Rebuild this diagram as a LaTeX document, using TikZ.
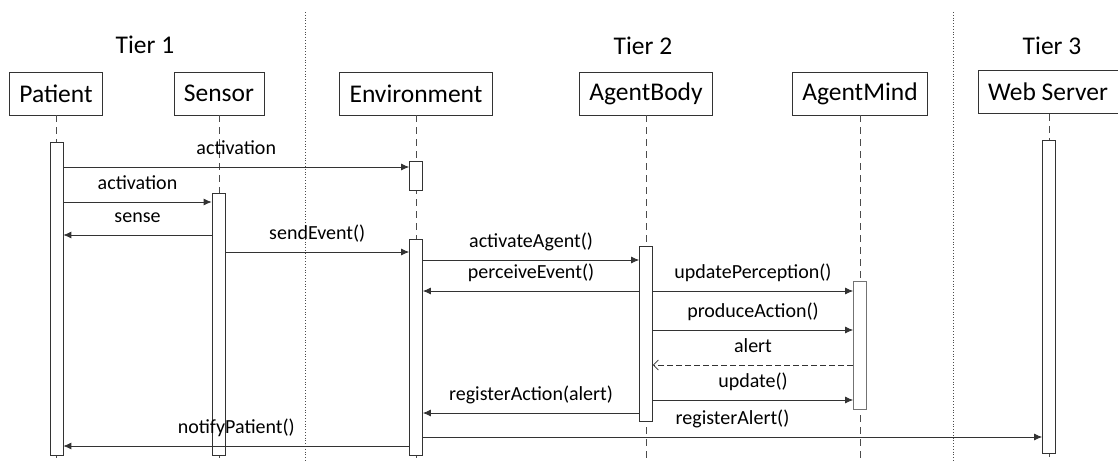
\documentclass[tikz,border=0pt]{standalone}
\usepackage{fontspec}
\setmainfont{Carlito}
\usepackage{tikz}
\usetikzlibrary{arrows.meta}
\usetikzlibrary{positioning}
\tikzset{actor/.style = {draw=black!80, line width=0.7pt, fill=white,
                         minimum height=43pt, inner xsep=10pt,
                         font=\fontsize{25.5}{30}\selectfont},
         tier/.style = {font=\fontsize{25.5}{30}\selectfont},
         lifeline/.style = {black!70, line width=0.8pt, dash pattern=on 7pt off 5pt},
         divider/.style = {black!70, line width=0.8pt, dotted},
         bar/.style = {draw=black!80, line width=0.7pt, fill=white,
                       minimum width=13pt, inner sep=0pt},
         msg/.style = {black!80, line width=0.8pt, -{Latex[length=8pt,width=7pt]}},
         reply/.style = {black!80, line width=0.8pt, dash pattern=on 6pt off 3pt,
                         -{Straight Barb[length=5pt,width=10pt]}},
         msglbl/.style = {black, font=\fontsize{20}{24}\selectfont,
                          anchor=base, yshift=13pt, inner sep=0pt}}

\begin{document}
\begin{tikzpicture}[x=1pt, y=-1pt]
    \useasboundingbox (0, 0) rectangle (1118, 461);

    \draw [divider] (305, 12) -- (305, 461);
    \draw [divider] (953, 12) -- (953, 461);

    \node [tier] (tier1) at (145, 45) {Tier 1};
    \node [tier] (tier2) at (643, 46) {Tier 2};
    \node [tier] (tier3) at (1052, 46) {Tier 3};

    \node [actor] (patient) at (56, 93.5) {Patient};
    \node [actor] (sensor) at (219, 93.5) {Sensor};
    \node [actor] (env) at (416, 93.5) {Environment};
    \node [actor] (body) at (646, 93.5) {AgentBody};
    \node [actor] (mind) at (860, 93.5) {AgentMind};
    \node [actor] (server) at (1048, 92) {Web Server};

    \draw [lifeline] (patient.south) -- (patient.south |- 0, 461);
    \draw [lifeline] (sensor.south) -- (sensor.south |- 0, 461);
    \draw [lifeline] (env.south) -- (env.south |- 0, 461);
    \draw [lifeline] (body.south) -- (body.south |- 0, 461);
    \draw [lifeline] (mind.south) -- (mind.south |- 0, 461);
    \draw [lifeline] ([xshift=1pt]server.south) -- ([xshift=1pt]server.south |- 0, 461);

    \node [bar, minimum height=313pt] (patbar) at (56.5, 298.5) {};
    \node [bar, minimum height=262pt] (senbar) at (218.5, 324) {};
    \node [bar, minimum height=29pt] (envact) at (416, 175.5) {};
    \node [bar, minimum height=216pt] (envbar) at (416, 347) {};
    \node [bar, minimum height=175pt] (bodybar) at (646, 333.5) {};
    \node [bar, minimum height=128pt, draw=black!55] (mindbar) at (860, 345) {};
    \node [bar, minimum height=313pt] (servbar) at (1049, 296.5) {};

    \draw [msg] (patbar.east |- 0, 167) -- node [msglbl] {activation} (envact.west |- 0, 167);
    \draw [msg] (patbar.east |- 0, 202) -- node [msglbl] {activation} (senbar.west |- 0, 202);
    \draw [msg] (senbar.west |- 0, 235) -- node [msglbl] {sense} (patbar.east |- 0, 235);
    \draw [msg] (senbar.east |- 0, 252) -- node [msglbl] {sendEvent()} (envbar.west |- 0, 252);
    \draw [msg] (envbar.east |- 0, 260) -- node [msglbl] {activateAgent()} (bodybar.west |- 0, 260);
    \draw [msg] (bodybar.west |- 0, 291) -- node [msglbl] {perceiveEvent()} (envbar.east |- 0, 291);
    \draw [msg] (bodybar.east |- 0, 291) -- node [msglbl] {updatePerception()} (mindbar.west |- 0, 291);
    \draw [msg] (bodybar.east |- 0, 330) -- node [msglbl] {produceAction()} (mindbar.west |- 0, 330);
    \draw [reply] (mindbar.west |- 0, 365) -- node [msglbl] {alert} (bodybar.east |- 0, 365);
    \draw [msg] (bodybar.east |- 0, 400) -- node [msglbl] {update()} (mindbar.west |- 0, 400);
    \draw [msg] (bodybar.west |- 0, 413) -- node [msglbl] {registerAction(alert)} (envbar.east |- 0, 413);
    \draw [msg] (envbar.east |- 0, 437) -- node [msglbl, pos=0.5] {registerAlert()} (servbar.west |- 0, 437);
    \draw [msg] (envbar.west |- 0, 446) -- node [msglbl] {notifyPatient()} (patbar.east |- 0, 446);
  \end{tikzpicture}
\end{document}
